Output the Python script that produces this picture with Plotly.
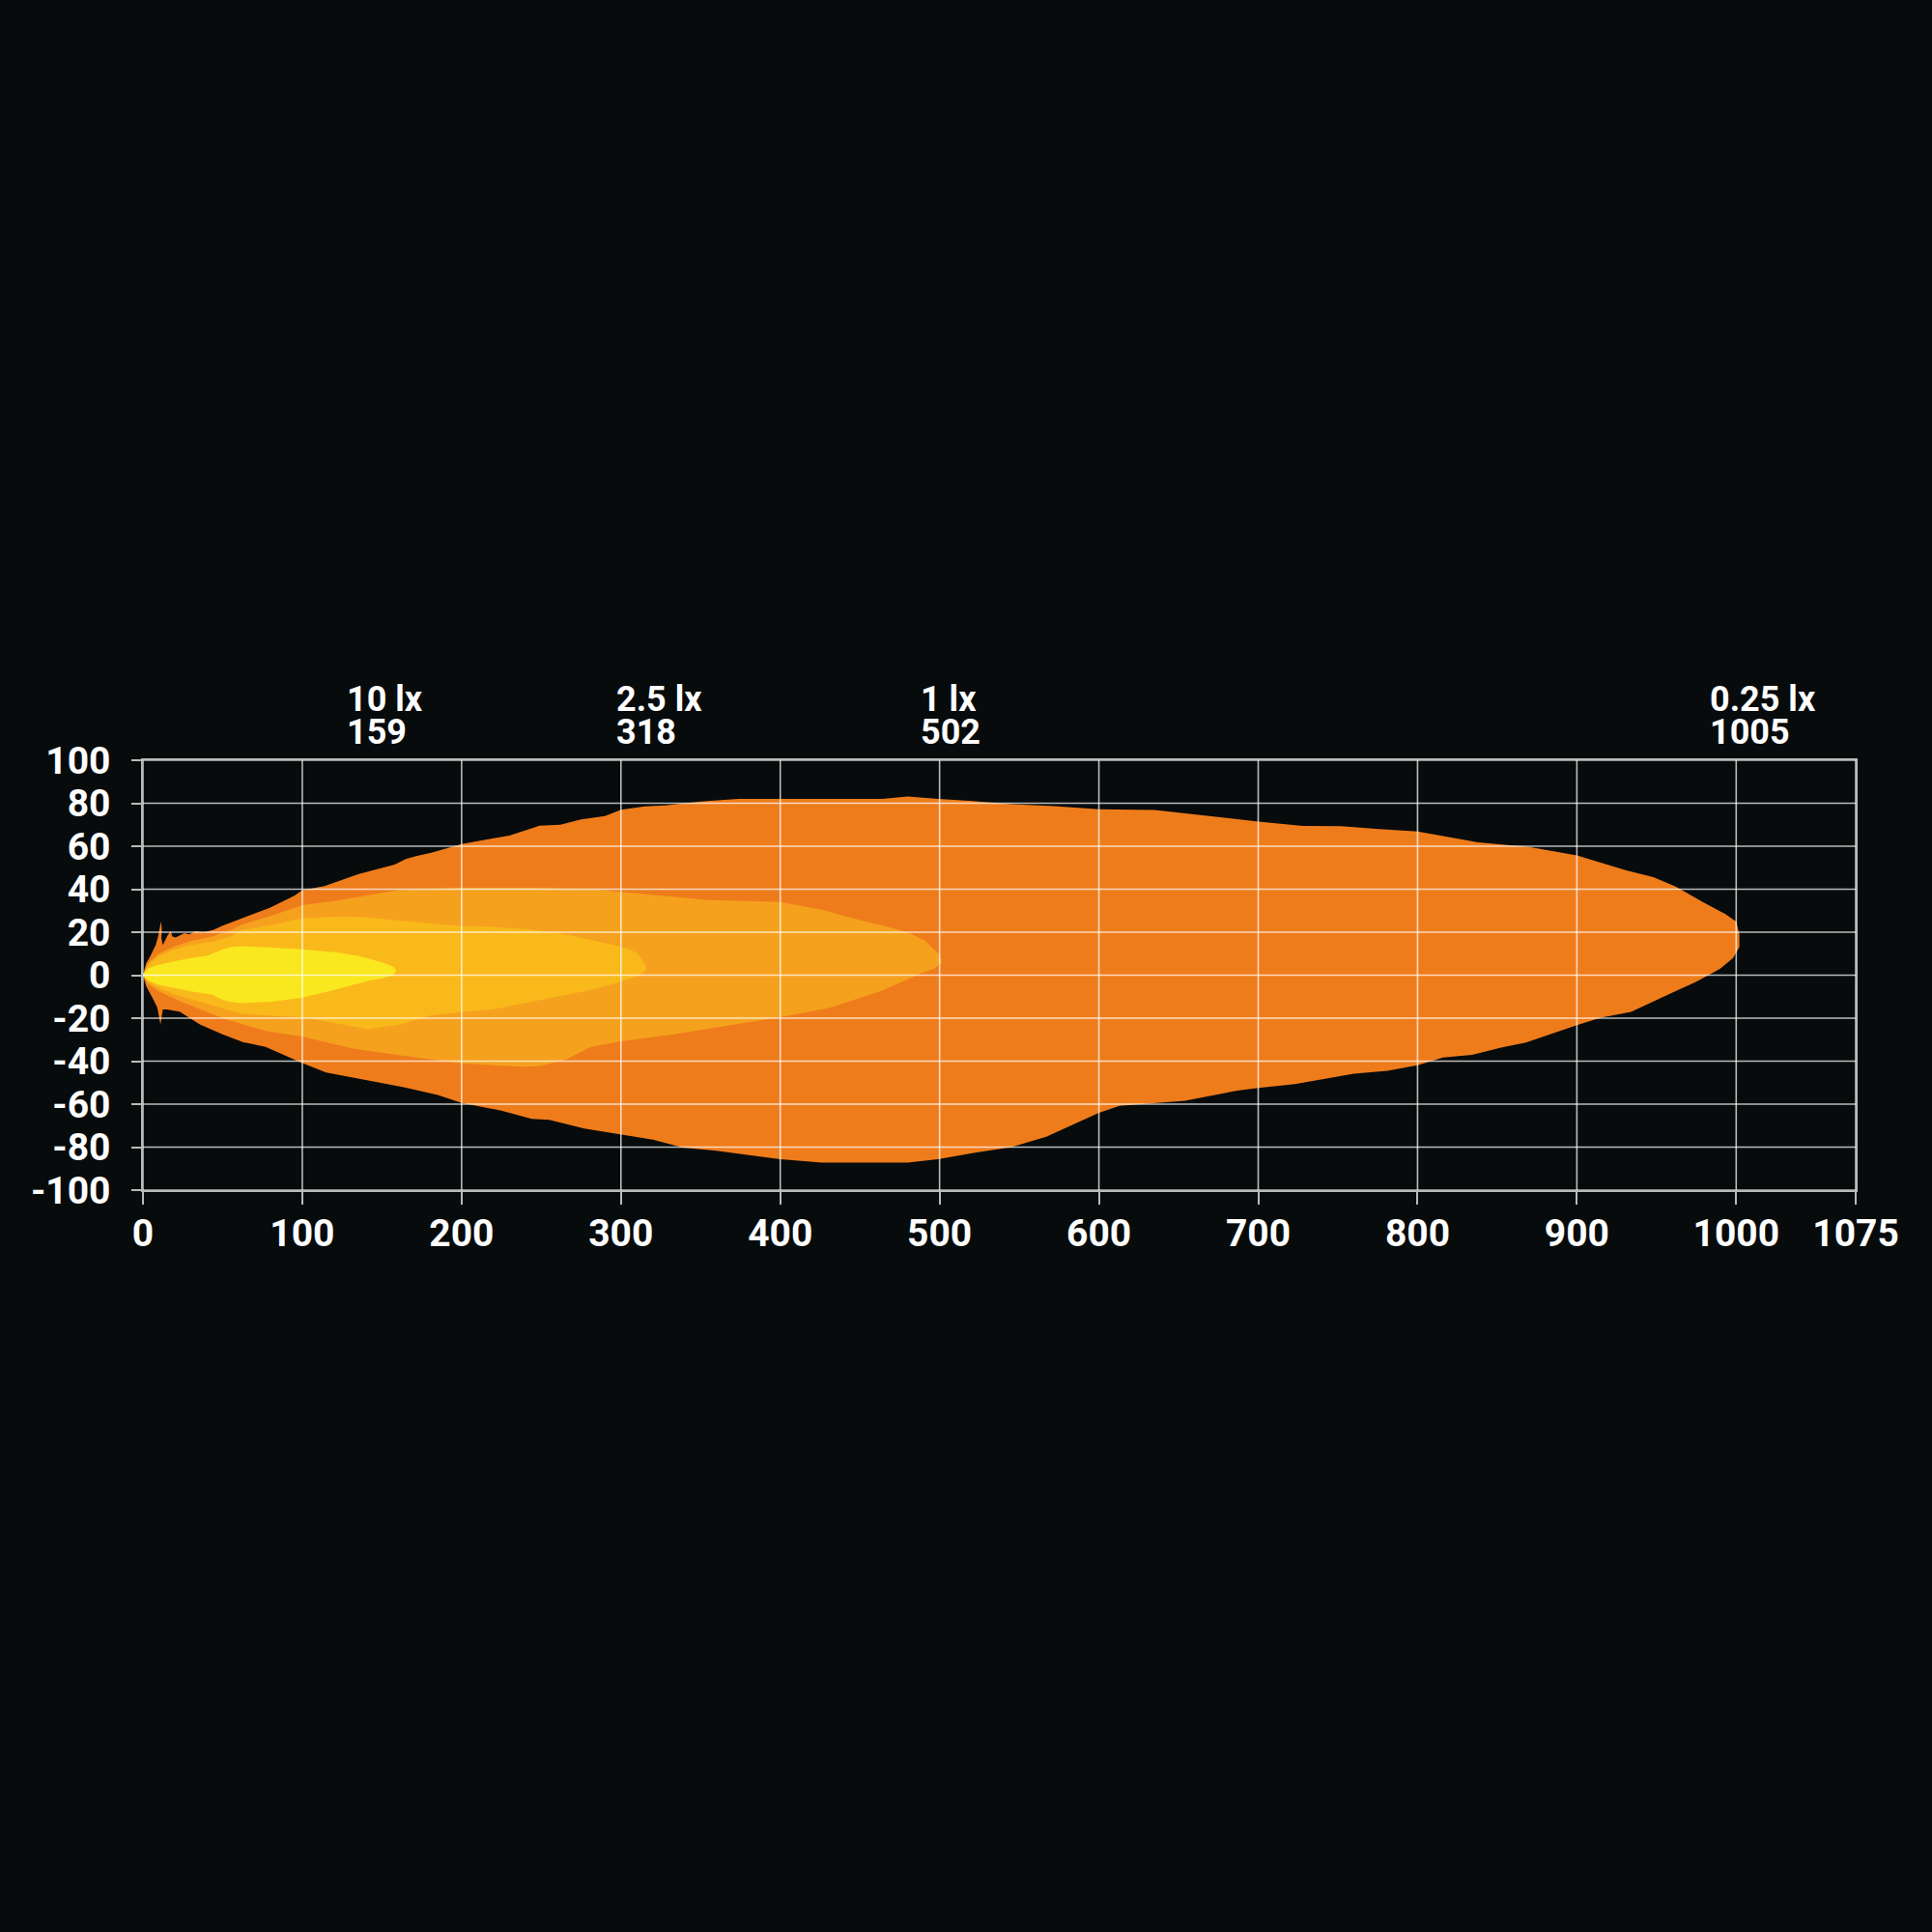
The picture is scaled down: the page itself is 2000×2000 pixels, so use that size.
import plotly.graph_objects as go

# ---------------- data ----------------
x_ticks = [0, 100, 200, 300, 400, 500, 600, 700, 800, 900, 1000, 1075]
y_ticks = [-100, -80, -60, -40, -20, 0, 20, 40, 60, 80, 100]

label_lux = ["10 lx", "2.5 lx", "1 lx", "0.25 lx"]
label_dist = ["159", "318", "502", "1005"]
label_x = [127, 296, 487, 982]

# 0.25 lx contour (outer)
lx025_x = [0, 1, 2, 4, 6, 8, 9.5, 10.5, 11.3, 11.8, 11.6, 12.5, 14, 15.5, 17.4, 18.5, 20.5, 23, 26, 29, 33,
           38, 44, 50, 57, 65, 73, 80, 87, 95, 100, 106, 114, 120, 127, 135, 143, 150, 158, 165, 172, 181,
           190, 200, 215, 230, 249, 262, 275, 290, 300, 315, 328, 350, 374, 400, 464, 480, 499, 521, 545,
           572, 600, 635, 654, 700, 728, 752, 776, 800, 838, 870, 900, 931, 948, 962, 979, 993, 1000, 1002, 1002,
           998, 990, 975, 962, 934, 915, 900, 868, 853, 834, 816, 800, 781, 760, 723, 700, 687, 654, 613, 600,
           567, 545, 524, 499, 480, 426, 400, 360, 339, 320, 300, 277, 255, 244, 225, 200, 185, 163, 147,
           131, 115, 100, 93, 77, 63, 50, 36, 23, 15, 12.5, 11.8, 11, 10, 9, 7, 5, 2, 0]
lx025_y = [0, 3, 5.5, 8, 11, 14, 18, 22, 25, 22, 17, 14, 16.5, 18.5, 20.5, 18, 17.5, 18.5, 19.5, 19, 20.5,
           20, 21, 23, 25, 27, 29.5, 31.5, 34, 37, 39.5, 40.5, 41.5, 43, 45, 47, 48.5, 50, 51.5, 54, 55.5, 57,
           59, 61, 63, 65, 69.5, 70, 72.5, 74, 77, 78.5, 79, 80.8, 82, 82, 82, 83.2, 82, 81, 79.5,
           78.7, 77.2, 76.8, 75.2, 71.5, 69.4, 69.3, 68, 66.8, 61.8, 59.7, 55.7, 48.8, 45.6, 41.2, 34.1, 28.5, 25, 19, 13,
           8, 3, -3, -7.4, -17.1, -19.8, -23.3, -31.3, -33.6, -37.1, -38.3, -41.9, -44.5, -45.8, -50.7, -52.5, -53.7, -58.4, -60.8, -64,
           -75.2, -80, -82.4, -85.6, -87.2, -87.2, -85.6, -81.7, -80.2, -76.5, -74, -71.3, -67.3, -66.9, -63, -59.4, -55.7, -52, -49.8,
           -47.5, -45.3, -40.9, -38.6, -33.4, -31.2, -27.5, -23, -17, -16, -16, -19, -23, -19, -15, -12, -9, -5, 0]

# 1 lx contour
lx1_x = [0, 3, 10, 20, 30, 43.6, 55, 62, 82, 100, 120, 140, 160, 200, 242, 282, 300, 328, 355, 400, 426,
         450, 464, 480, 491, 500, 501.5, 497, 488, 464, 431, 400, 355, 333, 300, 281, 265, 249, 238, 200,
         158, 131, 100, 77, 50, 23, 10, 3, 0]
lx1_y = [0, 5.5, 10, 13.5, 16, 18, 21, 23.5, 28, 32.6, 34.5, 37, 39.6, 40.7, 40.7, 40, 38.8, 37, 35, 34, 30.4,
         25.6, 23.2, 20, 16, 9.6, 6, 3.2, 0.8, -7.2, -15.2, -19.5, -24.8, -27.5, -30.8, -33.4, -39.4, -42.3, -42.6, -41,
         -37, -34, -28.5, -26, -20, -12, -7.5, -4, 0]

# 2.5 lx contour
lx25_x = [0, 3, 10, 20, 30, 43.6, 55, 62, 82, 100, 122, 141, 161, 181, 200, 221, 242, 262, 282, 300, 310,
          315, 316, 314, 310, 300, 282, 262, 242, 221, 200, 181, 161, 141, 122, 100, 82, 62, 43.6, 30, 20,
          10, 3, 0]
lx25_y = [0, 4.5, 9, 12, 14, 15.6, 18, 21, 23.5, 26.5, 27.2, 27, 25.4, 23.9, 22.8, 22.4, 21.3, 19.4, 16.4, 13.4, 10.4,
          5.2, 3, 1, -0.5, -3, -6.7, -9.7, -12.7, -15.7, -17.2, -18.7, -23, -25, -22.5, -19.5, -19, -18, -14, -11, -9,
          -6, -3, 0]

# 10 lx contour
lx10_x = [0, 3, 8, 15, 20, 30, 40, 45, 50, 55, 62, 82, 100, 122, 135, 142, 150, 157, 159,
          157, 150, 142, 122, 100, 82, 62, 55, 50, 43, 30, 20, 10, 3, 0]
lx10_y = [0, 3, 4.5, 5.5, 6.5, 8, 9, 10.5, 12, 13, 13.5, 12.8, 12, 10.6, 9, 7.6, 6, 4, 2,
          0, -1.5, -2.5, -6.5, -10.5, -12.3, -13, -12.5, -11.5, -9, -7.5, -6, -4.5, -2.5, 0]

contours = [
    ("0.25 lx", lx025_x, lx025_y, "#EF7C1B"),
    ("1 lx", lx1_x, lx1_y, "#F5A11E"),
    ("2.5 lx", lx25_x, lx25_y, "#FAB91A"),
    ("10 lx", lx10_x, lx10_y, "#F9E81F"),
]

BG = "#070B0C"
GRID = "rgba(255,255,255,0.72)"
FAMILY = "Roboto, Liberation Sans, Arial"
TICKFONT = dict(family=FAMILY, size=39, color="white", weight="bold")
LABEL_SIZE = 36
LABEL_PITCH_FONT = 26  # controls the tight line pitch (1.3 em)

fig = go.Figure()
for name, xs, ys, col in contours:
    fig.add_trace(go.Scatter(x=xs, y=ys, mode="lines", fill="toself", fillcolor=col,
                             line=dict(width=0, color=col), name=name, hoverinfo="skip"))

# grid lines drawn over the filled contours
gx, gy = [], []
for v in x_ticks:
    gx += [v, v, None]
    gy += [y_ticks[0], y_ticks[-1], None]
for v in y_ticks:
    gx += [x_ticks[0], x_ticks[-1], None]
    gy += [v, v, None]
fig.add_trace(go.Scatter(x=gx, y=gy, mode="lines", line=dict(color=GRID, width=1.6),
                         hoverinfo="skip", showlegend=False))

# distance labels (placed above the plot area), two tight lines each
for lx, d, xv in zip(label_lux, label_dist, label_x):
    txt = ('<span style="font-size:%dpx">%s</span><br><span style="font-size:%dpx">%s</span>'
           % (LABEL_SIZE, lx, LABEL_SIZE, d))
    fig.add_annotation(x=xv, y=1.1028, xref="x", yref="paper", text=txt, showarrow=False,
                       xanchor="left", yanchor="middle", align="left",
                       font=dict(family=FAMILY, size=LABEL_PITCH_FONT, color="white", weight="bold"))

fig.update_layout(
    width=2000, height=2000,
    paper_bgcolor=BG, plot_bgcolor=BG,
    margin=dict(l=148, r=79, t=787, b=768),
    showlegend=False,
    font=TICKFONT,
)
fig.update_xaxes(range=[0, 1075], tickvals=x_ticks, ticktext=[str(v) for v in x_ticks],
                 showgrid=False, zeroline=False, showline=True, mirror=True,
                 linecolor=GRID, linewidth=1.6, ticks="outside", ticklen=13, tickwidth=1.6,
                 tickcolor=GRID, tickfont=TICKFONT, ticklabelstandoff=-4)
fig.update_yaxes(range=[-100, 100], tickvals=y_ticks, ticktext=[str(v) for v in y_ticks],
                 showgrid=False, zeroline=False, showline=True, mirror=True,
                 linecolor=GRID, linewidth=1.6, ticks="outside", ticklen=10, tickwidth=1.6,
                 tickcolor=GRID, tickfont=TICKFONT, ticklabelstandoff=14)

fig.write_html("out.html", config={"displayModeBar": False},
               post_script="document.body.style.margin='0';document.body.style.background='%s';" % BG)
